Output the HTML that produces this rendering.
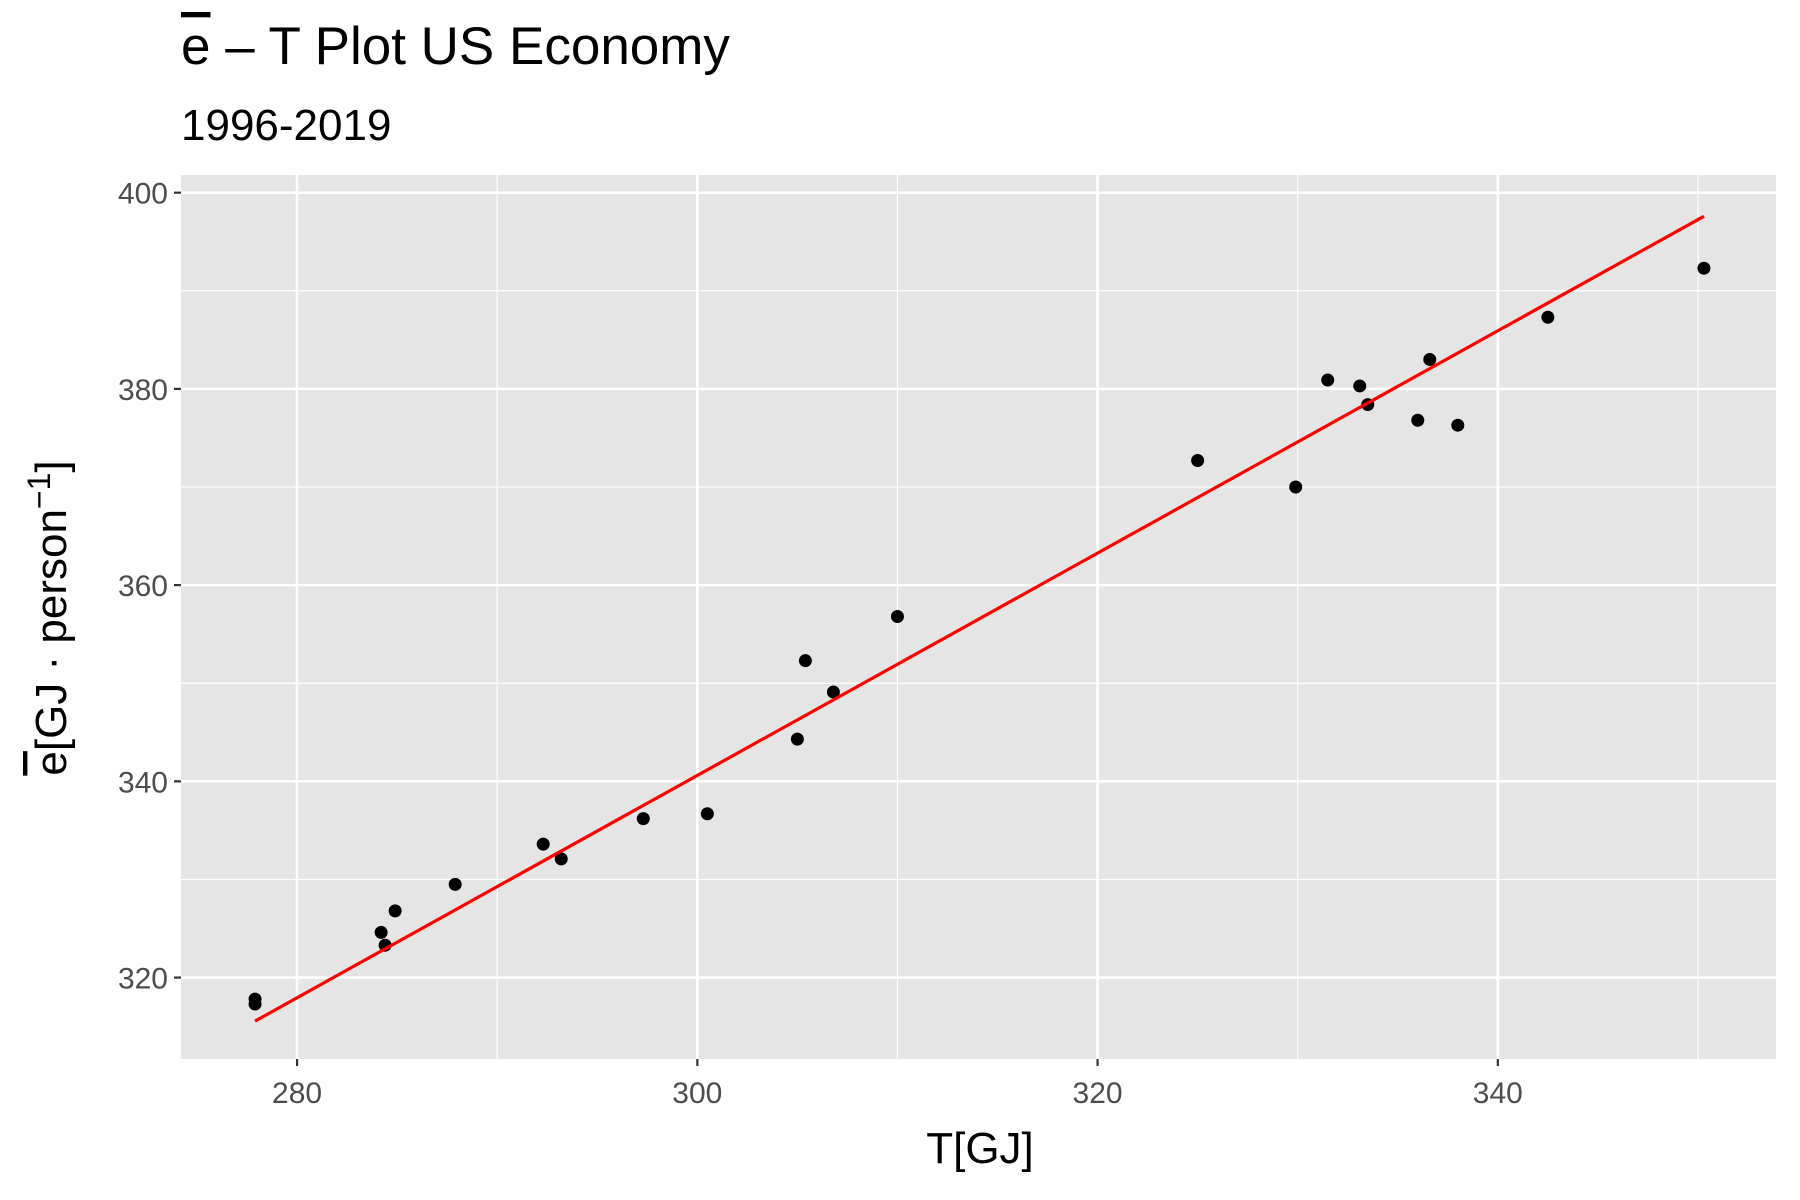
<!DOCTYPE html>
<html><head><meta charset="utf-8"><style>
body{margin:0;background:#fff}
svg{display:block;font-family:"Liberation Sans",sans-serif}
</style></head><body>
<svg id="chart" width="1800" height="1200" xmlns="http://www.w3.org/2000/svg">
<text x="181" y="64" font-size="53" fill="#000"><tspan text-decoration="overline">e</tspan> – T Plot US Economy</text>
<text x="181" y="140" font-size="44" fill="#000">1996-2019</text>
<g id="panel"></g>
<text x="980" y="1163" font-size="44" text-anchor="middle" fill="#000">T[GJ]</text>
<text transform="translate(66,618) rotate(-90)" font-size="44" text-anchor="middle" fill="#000"><tspan text-decoration="overline">e</tspan>[GJ · person<tspan dy="-16" font-size="32">−1</tspan><tspan dy="16">]</tspan></text>
</svg>
<script>
const xVals=[277.9,277.9,284.2,284.4,284.9,287.9,292.3,293.2,297.3,300.5,305.0,305.4,306.8,310.0,325.0,329.9,331.5,333.1,333.5,336.0,336.6,338.0,342.5,350.3];
const yVals=[317.3,317.8,324.6,323.3,326.8,329.5,333.6,332.1,336.2,336.7,344.3,352.3,349.1,356.8,372.7,370.0,380.9,380.3,378.4,376.8,383.0,376.3,387.3,392.3];
const fitX=[277.9,350.3];
const fitSlope=1.133;
const fitIntercept=0.7;
const xTicks=[280,300,320,340];
const yTicks=[320,340,360,380,400];
const xMinor=[290,310,330,350];
const yMinor=[330,350,370,390];

const L=181,R=1776,T=175,B=1059;
const xMin=274.2,xMax=353.9,yMin=311.7,yMax=401.8;
const sx=v=>L+(v-xMin)/(xMax-xMin)*(R-L);
const sy=v=>B-(v-yMin)/(yMax-yMin)*(B-T);
const NS="http://www.w3.org/2000/svg";
const g=document.getElementById('panel');
function mk(tag,attrs,parent){const e=document.createElementNS(NS,tag);for(const k in attrs)e.setAttribute(k,attrs[k]);(parent||g).appendChild(e);return e;}
let bg=mk('rect',{x:L,y:T,width:R-L,height:B-T,fill:'#e5e5e5'});


xMinor.forEach(v=>{let l=mk('line',{x1:sx(v),x2:sx(v),y1:T,y2:B,stroke:'#fff','stroke-width':1.2});

});
yMinor.forEach(v=>{let l=mk('line',{x1:L,x2:R,y1:sy(v),y2:sy(v),stroke:'#fff','stroke-width':1.2});

});
xTicks.forEach(v=>{let l=mk('line',{x1:sx(v),x2:sx(v),y1:T,y2:B,stroke:'#fff','stroke-width':2.6});


let t=mk('line',{x1:sx(v),x2:sx(v),y1:B,y2:B+7,stroke:'#333','stroke-width':2.2});


let tx=mk('text',{x:sx(v),y:B+44,'font-size':30,'text-anchor':'middle',fill:'#4d4d4d'});tx.textContent=v;

});
yTicks.forEach(v=>{let l=mk('line',{x1:L,x2:R,y1:sy(v),y2:sy(v),stroke:'#fff','stroke-width':2.6});


let t=mk('line',{x1:L-7,x2:L,y1:sy(v),y2:sy(v),stroke:'#333','stroke-width':2.2});


let tx=mk('text',{x:L-13,y:sy(v)+11,'font-size':30,'text-anchor':'end',fill:'#4d4d4d'});tx.textContent=v;

});
xVals.forEach((v,i)=>{let c=mk('circle',{cx:sx(v),cy:sy(yVals[i]),r:6.5,fill:'#000'});

});
let fl=mk('line',{x1:sx(fitX[0]),y1:sy(fitSlope*fitX[0]+fitIntercept),x2:sx(fitX[1]),y2:sy(fitSlope*fitX[1]+fitIntercept),stroke:'#f00','stroke-width':3.2});


</script>
</body></html>
